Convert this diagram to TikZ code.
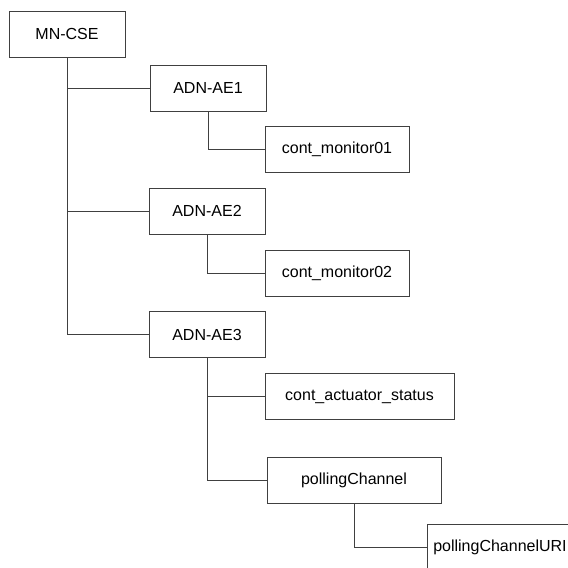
\documentclass[tikz,border=0pt]{standalone}
\usepackage{fontspec}
\setmainfont{Liberation Sans}
\tikzset{
  res/.style={draw=black!75,line width=0.8pt,fill=white,minimum height=46pt,
    inner sep=0pt,font=\fontsize{16}{19}\selectfont},
  link/.style={draw=black!75,line width=0.8pt}
}
\begin{document}
\begin{tikzpicture}[x=1pt,y=-1pt]
        \useasboundingbox (0,0) rectangle (568,568);
        %% cse
        \node[res,minimum width=116pt] (cse) at (67,34) {MN-CSE};
        %% ae1
        \node[res,minimum width=116pt] (ae1) at (208,88) {ADN-AE1};
        \node[res,minimum width=144pt] (mon1) at (337,149.5) {cont\_monitor01};
        %% ae2
        \node[res,minimum width=116pt] (ae2) at (207,211) {ADN-AE2};
        \node[res,minimum width=144pt] (mon2) at (337,273) {cont\_monitor02};
        %% ae3
        \node[res,minimum width=116pt] (ae3) at (207,334.5) {ADN-AE3};
        \node[res,minimum width=189pt] (act) at (359.5,396.5) {cont\_actuator\_status};
        \node[res,minimum width=174pt] (poll) at (354,480.5) {pollingChannel};
        \node[res,minimum width=146pt] (uri) at (500,547) {pollingChannelURI};
        %% links
        \draw[link] (cse.south) |- (ae1.west);
        \draw[link] (cse.south) |- (ae2.west);
        \draw[link] (cse.south) |- (ae3.west);
        \draw[link] (ae1.south) |- (mon1.west);
        \draw[link] (ae2.south) |- (mon2.west);
        \draw[link] (ae3.south) |- (act.west);
        \draw[link] (ae3.south) |- (poll.west);
        \draw[link] (poll.south) |- (uri.west);
    \end{tikzpicture}
\end{document}
